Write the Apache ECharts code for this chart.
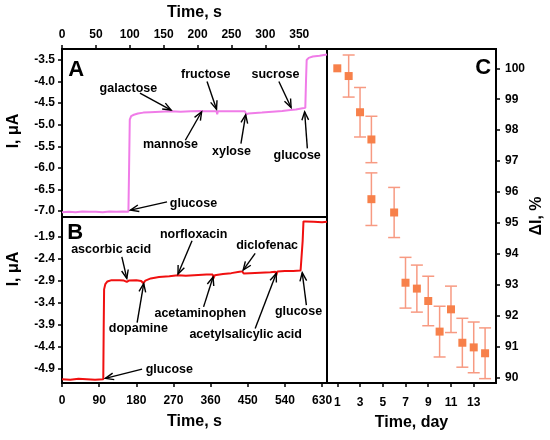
<!DOCTYPE html>
<html><head><meta charset="utf-8">
<script src="https://cdn.jsdelivr.net/npm/echarts@6/dist/echarts.min.js"></script>
<style>html,body{margin:0;padding:0;background:#fff}#c{width:550px;height:440px}</style>
</head><body><div id="c"></div>
<script>
// ---------- Panel A (pink trace) ----------
const timeA = [0,10,20,30,40,50,60,70,80,90,98,99,100,102,106,112,120,130,145,160,175,190,204,206,208,220,228,229,230,245,260,270,272,275,285,295,310,325,337,345,355,359,360,361,364,370,380,391];
const currentA = [-7.03,-7.02,-7.03,-7.01,-7.02,-7.02,-7.03,-7.01,-7.02,-7.01,-7.02,-6.0,-4.88,-4.80,-4.77,-4.74,-4.72,-4.71,-4.70,-4.69,-4.70,-4.69,-4.68,-4.65,-4.69,-4.69,-4.69,-4.76,-4.69,-4.69,-4.69,-4.69,-4.76,-4.74,-4.73,-4.72,-4.70,-4.68,-4.66,-4.65,-4.62,-4.61,-4.0,-3.50,-3.45,-3.42,-3.40,-3.37];
const xTicksA = [0,50,100,150,200,250,300,350];
const yTicksA = [-7.0,-6.5,-6.0,-5.5,-5.0,-4.5,-4.0,-3.5];
const annotTextA = ['galactose','fructose','sucrose','mannose','xylose','glucose','glucose'];
const annotAtA   = [[98,-4.16],[212,-3.83],[315,-3.83],[160,-5.47],[250,-5.63],[347,-5.72],[194,-6.83]];
const annotFromA = [[115,-4.27],[214,-4.0],[320,-4.0],[182,-5.36],[264,-5.44],[362,-5.55],[155,-6.79]];
const annotToA   = [[161,-4.66],[228,-4.64],[338,-4.60],[206,-4.70],[271,-4.77],[358,-4.70],[101,-6.98]];

// ---------- Panel B (red trace) ----------
const timeB = [0,20,40,60,80,100,101,102,105,110,120,140,150,157,162,180,192,197,202,215,235,260,281,300,330,350,365,367,370,390,410,430,437,440,455,480,505,517,519,522,540,560,578,581,583,585,590,610,630,642];
const currentB = [-5.15,-5.16,-5.14,-5.15,-5.16,-5.15,-4.0,-3.10,-2.98,-2.92,-2.89,-2.89,-2.90,-2.93,-2.90,-2.89,-2.91,-2.96,-2.90,-2.85,-2.82,-2.80,-2.78,-2.79,-2.77,-2.76,-2.76,-2.85,-2.78,-2.75,-2.73,-2.70,-2.69,-2.74,-2.73,-2.72,-2.71,-2.70,-2.78,-2.69,-2.68,-2.68,-2.67,-2.68,-2.0,-1.55,-1.55,-1.56,-1.57,-1.56];
const xTicksB = [0,90,180,270,360,450,540,630];
const yTicksB = [-4.9,-4.4,-3.9,-3.4,-2.9,-2.4,-1.9];
const annotTextB = ['ascorbic acid','dopamine','norfloxacin','acetaminophen','diclofenac','acetylsalicylic acid','glucose','glucose'];
const annotAtB   = [[119,-2.20],[185,-4.00],[319,-1.85],[335,-3.66],[497,-2.09],[445,-4.12],[573,-3.61],[260,-4.92]];
const annotFromB = [[145,-2.36],[182,-3.86],[315,-1.99],[343,-3.50],[468,-2.28],[468,-3.99],[592,-3.46],[194,-4.92]];
const annotToB   = [[157,-2.85],[198,-2.97],[281,-2.75],[366,-2.82],[439,-2.66],[519,-2.74],[582,-2.72],[105,-5.13]];

// ---------- Panel C (stability) ----------
const dayC = [1,2,3,4,4,6,7,8,9,10,11,12,13,14];
const deltaC = [100.0,99.75,98.58,97.70,95.77,95.34,93.07,92.88,92.48,91.49,92.21,91.13,90.98,90.79];
const errC = [0,0.68,0.80,0.75,0.85,0.81,0.82,0.76,0.80,0.82,0.75,0.79,0.82,0.82];
const xTicksC = [1,3,5,7,9,11,13];
const yTicksC = [90,91,92,93,94,95,96,97,98,99,100];

const FONT = 'Liberation Sans, Arial, Helvetica, sans-serif';
const labelStyle = {color:'#000', fontWeight:'bold', fontSize:12, fontFamily:FONT};
const nameStyle = {color:'#000', fontWeight:'bold', fontSize:16, fontFamily:FONT};
const lineAx = {show:true, onZero:false, lineStyle:{color:'#000', width:2}};
const tickAx = (vals)=>({show:true, inside:false, length:4, customValues:vals, lineStyle:{color:'#000', width:1.5}});

function arrowSeries(xi, yi, from, to){
  return {
    type:'custom', xAxisIndex:xi, yAxisIndex:yi, z:5, silent:true, clip:false,
    data: from.map((f,i)=>[f[0], f[1], to[i][0], to[i][1]]),
    encode:{x:[0,2], y:[1,3]},
    renderItem:(params, api)=>{
      const p1 = api.coord([api.value(0), api.value(1)]);
      const p2 = api.coord([api.value(2), api.value(3)]);
      const dx = p2[0]-p1[0], dy = p2[1]-p1[1];
      const len = Math.sqrt(dx*dx+dy*dy) || 1;
      const ux = dx/len, uy = dy/len;
      const L = 9, th = 22*Math.PI/180, c = Math.cos(th), s = Math.sin(th);
      const a1 = [p2[0] - L*(ux*c - uy*s), p2[1] - L*(uy*c + ux*s)];
      const a2 = [p2[0] - L*(ux*c + uy*s), p2[1] - L*(uy*c - ux*s)];
      const st = {stroke:'#000', lineWidth:1.4, fill:null};
      return {type:'group', children:[
        {type:'line', shape:{x1:p1[0], y1:p1[1], x2:p2[0], y2:p2[1]}, style:st},
        {type:'polyline', shape:{points:[a1, p2, a2]}, style:st}
      ]};
    }
  };
}

function labelMarks(texts, at, letter){
  return {
    silent:true, animation:false,
    symbol:'circle', symbolSize:1,
    itemStyle:{color:'rgba(0,0,0,0)'},
    label:{show:true, position:'inside', formatter:'{b}', color:'#000', fontWeight:'bold', fontSize:12.5, fontFamily:FONT},
    emphasis:{disabled:true},
    data: texts.map((t,i)=>({name:t, coord:at[i]})).concat([{name:letter.text, coord:letter.at, label:{fontSize:22}}])
  };
}

const chart = echarts.init(document.getElementById('c'), null, {renderer:'canvas'});
const option = {
  animation:false,
  backgroundColor:'#fff',
  grid:[
    {left:62, top:49, width:265, height:168, show:true, borderColor:'#000', borderWidth:2, outerBoundsMode:'none', containLabel:false},
    {left:62, top:217, width:265, height:166, show:true, borderColor:'#000', borderWidth:2, outerBoundsMode:'none', containLabel:false},
    {left:327, top:49, width:169, height:334, show:true, borderColor:'#000', borderWidth:2, outerBoundsMode:'none', containLabel:false}
  ],
  xAxis:[
    {gridIndex:0, type:'value', position:'top', min:0, max:391,
     axisLine:lineAx, axisTick:tickAx(xTicksA), splitLine:{show:false},
     axisLabel:{...labelStyle, margin:8, customValues:xTicksA},
     name:'Time, s', nameLocation:'middle', nameGap:28, nameTextStyle:nameStyle},
    {gridIndex:1, type:'value', position:'bottom', min:0, max:642,
     axisLine:lineAx, axisTick:tickAx(xTicksB), splitLine:{show:false},
     axisLabel:{...labelStyle, margin:12, customValues:xTicksB},
     name:'Time, s', nameLocation:'middle', nameGap:31, nameTextStyle:nameStyle},
    {gridIndex:2, type:'value', position:'bottom', min:0.094, max:14.96,
     axisLine:lineAx, axisTick:tickAx(xTicksC), splitLine:{show:false},
     axisLabel:{...labelStyle, margin:14, customValues:xTicksC},
     name:'Time, day', nameLocation:'middle', nameGap:32, nameTextStyle:nameStyle}
  ],
  yAxis:[
    {gridIndex:0, type:'value', position:'left', min:-7.14, max:-3.245,
     axisLine:lineAx, axisTick:tickAx(yTicksA), splitLine:{show:false},
     axisLabel:{...labelStyle, margin:7, customValues:yTicksA, formatter:v=>v.toFixed(1)},
     name:'I, μA', nameLocation:'middle', nameGap:40, nameTextStyle:{...nameStyle, padding:[0,0,0,4]}},
    {gridIndex:1, type:'value', position:'left', min:-5.235, max:-1.45,
     axisLine:lineAx, axisTick:tickAx(yTicksB), splitLine:{show:false},
     axisLabel:{...labelStyle, margin:7, customValues:yTicksB, formatter:v=>v.toFixed(1)},
     name:'I, μA', nameLocation:'middle', nameGap:40, nameTextStyle:{...nameStyle, padding:[0,0,0,62]}},
    {gridIndex:2, type:'value', position:'right', min:89.829, max:100.624,
     axisLine:lineAx, axisTick:tickAx(yTicksC), splitLine:{show:false},
     axisLabel:{...labelStyle, margin:9, customValues:yTicksC},
     name:'ΔI, %', nameLocation:'middle', nameGap:32, nameTextStyle:nameStyle}
  ],
  series:[
    {
      type:'line', xAxisIndex:0, yAxisIndex:0, showSymbol:false, symbol:'none',
      data: timeA.map((t,i)=>[t,currentA[i]]),
      lineStyle:{color:'#f07ce8', width:2}, itemStyle:{color:'#f07ce8'},
      markPoint: labelMarks(annotTextA, annotAtA, {text:'A', at:[21,-3.73]})
    },
    arrowSeries(0, 0, annotFromA, annotToA),
    {
      type:'line', xAxisIndex:1, yAxisIndex:1, showSymbol:false, symbol:'none',
      data: timeB.map((t,i)=>[t,currentB[i]]),
      lineStyle:{color:'#f01010', width:2}, itemStyle:{color:'#f01010'},
      markPoint: labelMarks(annotTextB, annotAtB, {text:'B', at:[32,-1.82]})
    },
    arrowSeries(1, 1, annotFromB, annotToB),
    {
      type:'custom', xAxisIndex:2, yAxisIndex:2, z:2,
      data: dayC.map((d,i)=>[d, deltaC[i]-errC[i], deltaC[i]+errC[i]]),
      encode:{x:0, y:[1,2]},
      renderItem:(params, api)=>{
        const x = api.value(0), lo = api.value(1), hi = api.value(2);
        if (hi - lo < 1e-9) return null;
        const a = api.coord([x, lo]), b = api.coord([x, hi]);
        const w = 6, st = {stroke:'#f79a82', lineWidth:1.5};
        return {type:'group', children:[
          {type:'line', shape:{x1:a[0], y1:a[1], x2:b[0], y2:b[1]}, style:st},
          {type:'line', shape:{x1:a[0]-w, y1:a[1], x2:a[0]+w, y2:a[1]}, style:st},
          {type:'line', shape:{x1:b[0]-w, y1:b[1], x2:b[0]+w, y2:b[1]}, style:st}
        ]};
      }
    },
    {
      type:'scatter', xAxisIndex:2, yAxisIndex:2, z:3,
      symbol:'rect', symbolSize:8,
      data: dayC.map((d,i)=>[d, deltaC[i]]),
      itemStyle:{color:'#f7804a', opacity:1},
      markPoint:{
        silent:true, animation:false, symbol:'circle', symbolSize:1,
        itemStyle:{color:'rgba(0,0,0,0)'},
        label:{show:true, position:'inside', formatter:'{b}', color:'#000', fontWeight:'bold', fontSize:22, fontFamily:FONT},
        data:[{name:'C', coord:[13.84, 100.0]}]
      }
    }
  ]
};
chart.setOption(option);
</script>
</body></html>
